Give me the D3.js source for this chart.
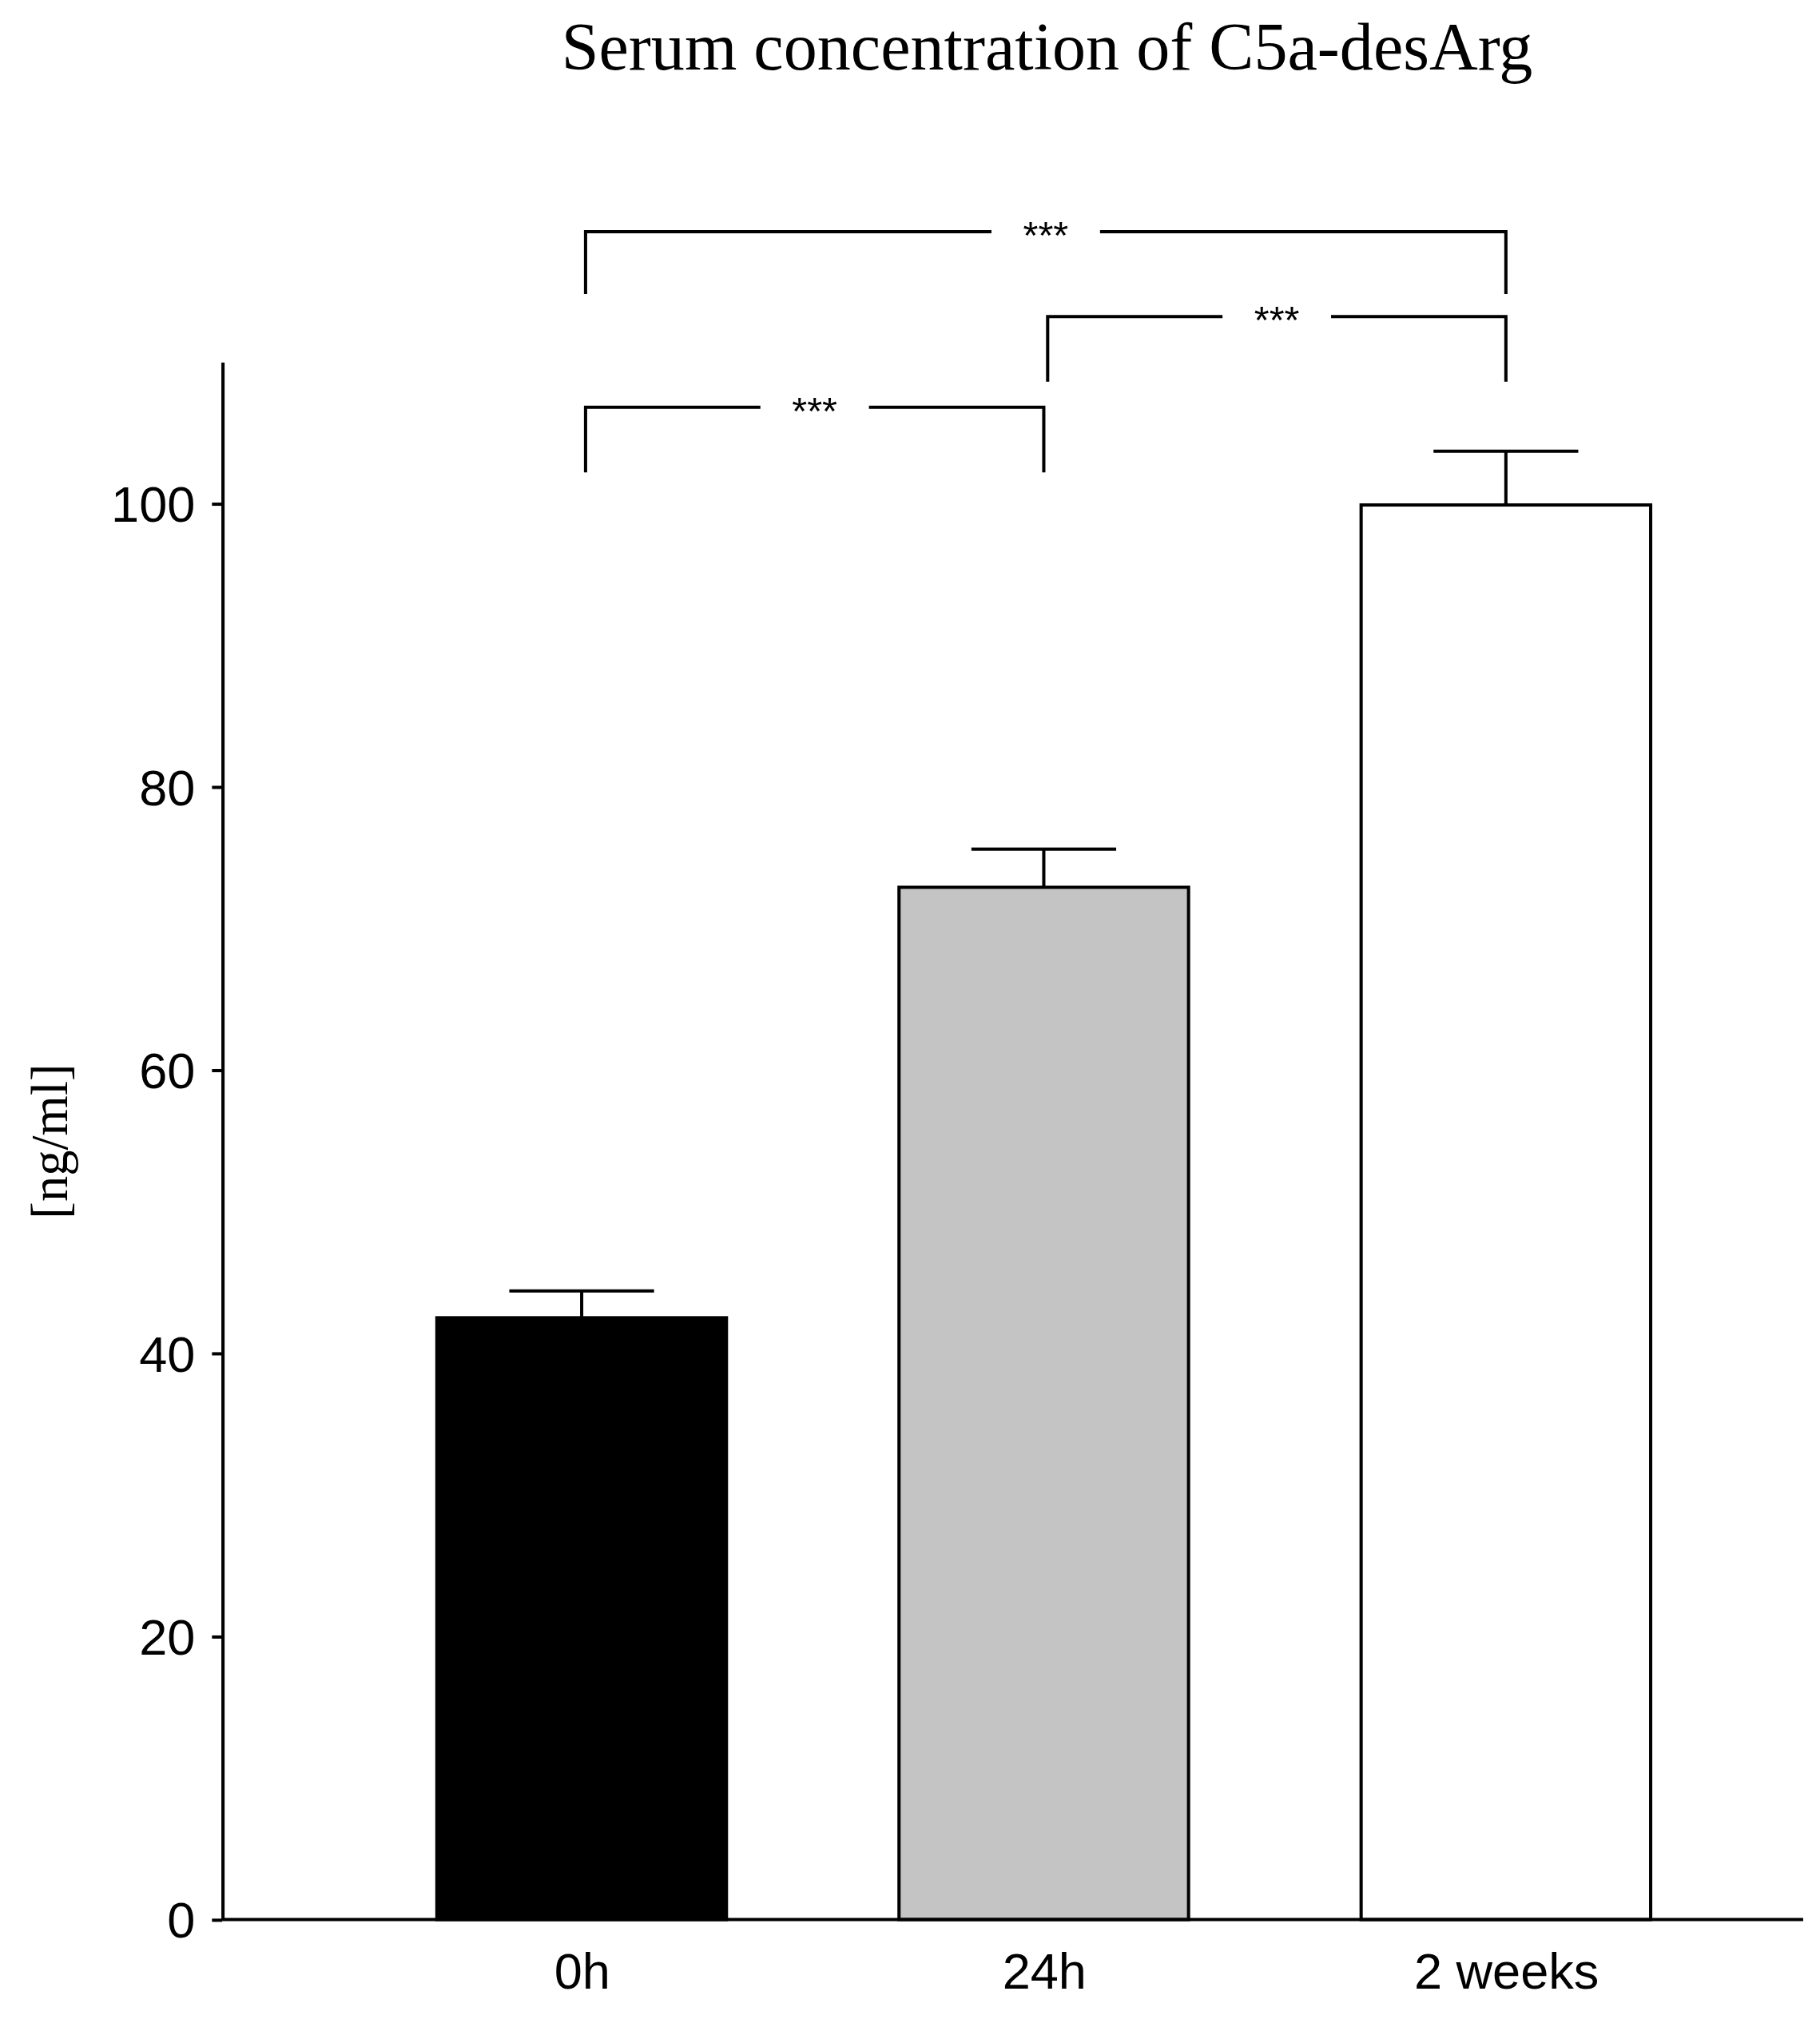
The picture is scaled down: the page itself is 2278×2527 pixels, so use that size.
<!DOCTYPE html>
<html><head><meta charset="utf-8">
<script src="https://cdn.jsdelivr.net/npm/d3@7"></script>
<style>body{margin:0;background:#fff}</style>
</head><body>
<svg id="c" width="2278" height="2527"></svg>
<script>
const categories = ['0h', '24h', '2 weeks']
const means = [42.5, 72.9, 99.9]
const errors = [1.9, 2.7, 3.8]
const fills = ['#000000', '#c4c4c4', '#ffffff']
const yTicks = [0, 20, 40, 60, 80, 100]
// brackets: [from, to, barY, leftLegY, rightLegY]
const brackets = [
  ['0h', '2 weeks', 119.2, 114.8, 114.8],
  ['24h', '2 weeks', 113.2, 108.6, 108.6],
  ['0h', '24h', 106.8, 102.2, 102.2]
]

const s = 2278 / 1408
const svg = d3.select('#c')
const g = svg.append('g').attr('transform', `scale(${s})`)

const y = d3.scaleLinear().domain([0, 110]).range([1485, 280])
const x = d3.scalePoint().domain(categories).range([450, 1165])
const bw = 224

g.append('text').attr('x', 810).attr('y', 54).attr('text-anchor', 'middle')
  .style('font-family', 'Liberation Serif').style('font-size', '52px')
  .text('Serum concentration of C5a-desArg')

g.append('text').attr('transform', 'translate(52,883) rotate(-90)')
  .attr('text-anchor', 'middle')
  .style('font-family', 'Liberation Serif').style('font-size', '40px')
  .text('[ng/ml]')

// error bars behind bars
categories.forEach((c, i) => {
  g.append('line').attr('x1', x(c)).attr('x2', x(c))
    .attr('y1', y(means[i])).attr('y2', y(means[i] + errors[i]))
    .attr('stroke', '#000').attr('stroke-width', 2.5)
  g.append('line').attr('x1', x(c) - 56).attr('x2', x(c) + 56)
    .attr('y1', y(means[i] + errors[i])).attr('y2', y(means[i] + errors[i]))
    .attr('stroke', '#000').attr('stroke-width', 2.5)
})

g.selectAll('rect.bar').data(categories).join('rect')
  .attr('x', d => x(d) - bw / 2).attr('width', bw)
  .attr('y', (d, i) => y(means[i])).attr('height', (d, i) => y(0) - y(means[i]))
  .attr('fill', (d, i) => fills[i]).attr('stroke', '#000').attr('stroke-width', 2.5)

const ya = g.append('g').attr('transform', 'translate(172,0)')
  .call(d3.axisLeft(y).tickValues(yTicks).tickSize(8).tickSizeOuter(0))
ya.select('.domain').attr('stroke-width', 2.5)
ya.selectAll('.tick line').attr('stroke-width', 2.5)
ya.selectAll('text').style('font-family', 'Liberation Sans').style('font-size', '39px')
  .attr('dx', '-10').attr('dy', '0.35em')

const xa = g.append('g').attr('transform', 'translate(0,1485)')
  .call(d3.axisBottom(x).tickSize(0))
xa.select('.domain').attr('d', 'M172,0H1395').attr('stroke-width', 2.5)
xa.selectAll('text').style('font-family', 'Liberation Sans').style('font-size', '39px')
  .attr('dy', '1.3em')

brackets.forEach(b => {
  const x1 = x(b[0]) + 3, x2 = x(b[1])
  const by = y(b[2]), mid = (x1 + x2) / 2
  const p = d3.path()
  p.moveTo(x1, y(b[3])); p.lineTo(x1, by); p.lineTo(mid - 42, by)
  p.moveTo(mid + 42, by); p.lineTo(x2, by); p.lineTo(x2, y(b[4]))
  g.append('path').attr('d', p.toString()).attr('fill', 'none')
    .attr('stroke', '#000').attr('stroke-width', 2.5)
  g.append('text').attr('x', mid).attr('y', by + 13).attr('text-anchor', 'middle')
    .style('font-family', 'Liberation Sans').style('font-size', '30px').text('***')
})
</script>
</body></html>
